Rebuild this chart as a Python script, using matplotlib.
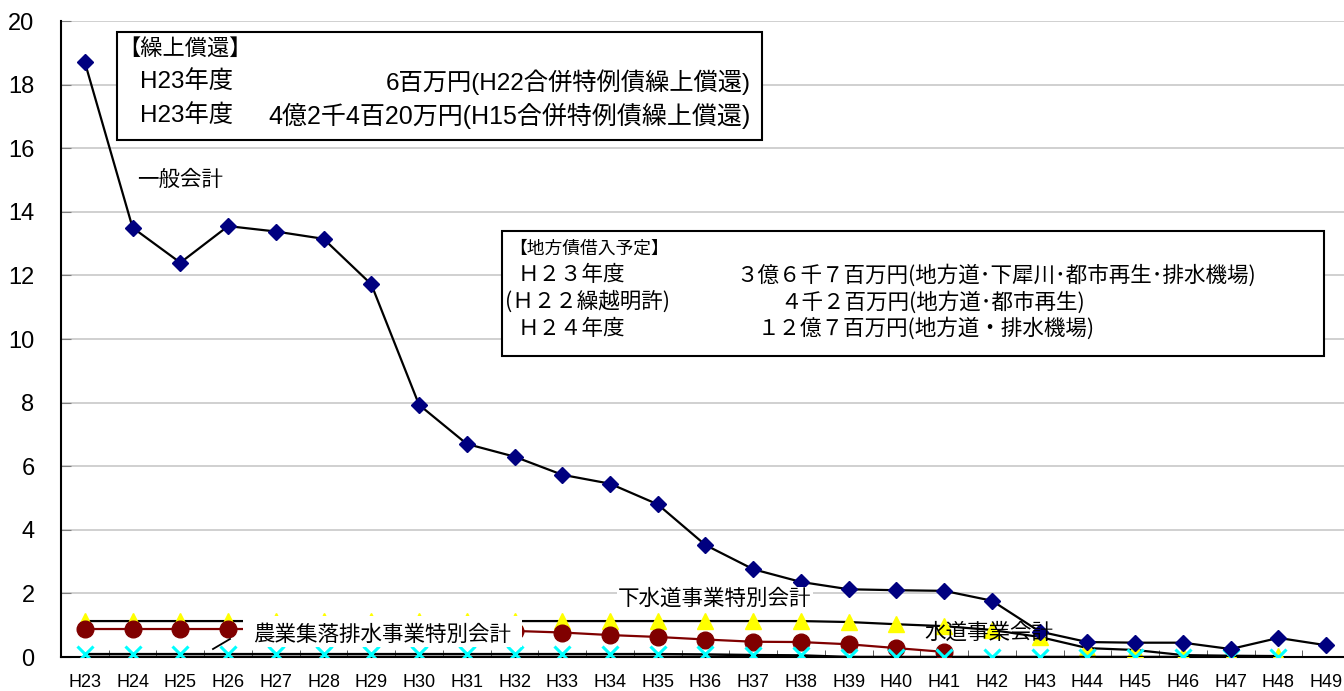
import matplotlib
matplotlib.use("Agg")
import matplotlib.pyplot as plt
from matplotlib.patches import Rectangle
from matplotlib.lines import Line2D
import numpy as np

plt.rcParams['font.family'] = ['Liberation Sans', 'Noto Sans CJK JP', 'DejaVu Sans']
JP = ['Noto Sans CJK JP', 'DejaVu Sans']
LJ = ['Liberation Sans', 'Noto Sans CJK JP']

# categories H23 .. H49
years = ["H%d" % y for y in range(23, 50)]

# 一般会計
general = [18.7, 13.5, 12.4, 13.55, 13.38, 13.15, 11.72, 7.93, 6.7, 6.3,
           5.73, 5.45, 4.8, 3.52, 2.76, 2.36, 2.13, 2.1, 2.08, 1.77,
           0.8, 0.47, 0.45, 0.45, 0.25, 0.6, 0.37]
# 下水道事業特別会計
sewer = [1.13, 1.13, 1.13, 1.13, 1.13, 1.13, 1.13, 1.13, 1.13, 1.13,
         1.13, 1.13, 1.13, 1.13, 1.13, 1.13, 1.1, 1.03, 0.97, 0.85,
         0.63, 0.28, 0.22, 0.06, 0.04, 0.03]
# 農業集落排水事業特別会計
rural = [0.88, 0.88, 0.88, 0.88, 0.88, 0.88, 0.87, 0.86, 0.84, 0.82,
         0.77, 0.69, 0.63, 0.55, 0.48, 0.47, 0.4, 0.28, 0.16]
# 水道事業会計
water = [0.09, 0.09, 0.09, 0.09, 0.09, 0.09, 0.09, 0.09, 0.09, 0.09,
         0.09, 0.09, 0.09, 0.08, 0.06, 0.05, 0.0, 0.0, 0.0, 0.0,
         0.0, 0.0, 0.0, 0.0, 0.0, 0.0]

W, H = 1344, 691
def fx(x):
    return x / W
def fy(y):
    return 1 - y / H

fig = plt.figure(figsize=(13.44, 6.91), dpi=100)
ax = fig.add_axes([fx(61), fy(657), (1350 - 61) / W, (657 - 21) / H])

x = np.arange(len(years))
ax.plot(x[:len(sewer)], sewer, color='black', lw=1.6, marker='^', ms=11,
        mfc='#ffff00', mec='#ffff00', zorder=3)
ax.plot(x[:len(rural)], rural, color='#800000', lw=1.6, marker='o', ms=12,
        mfc='#800000', mec='#800000', zorder=4)
ax.plot(x[:len(water)], water, color='black', lw=1.8, marker='x', ms=11,
        mec='#00ffff', mew=2.2, zorder=5)
ax.plot(x, general, color='black', lw=1.6, marker='D', ms=8.5,
        mfc='#000080', mec='#000080', zorder=6)

ax.set_xlim(-0.5, len(years) - 0.5)
ax.set_ylim(0, 20)
ax.set_yticks(range(0, 21, 2))
ax.yaxis.grid(True, color='#c8c8c8', lw=1.2)
ax.set_axisbelow(True)
ax.set_xticks(x)
ax.set_xticklabels(years)
ax.set_xticks(np.arange(-0.5, len(years), 1), minor=True)
ax.tick_params(axis='x', which='major', length=0, pad=12, labelsize=13)
ax.tick_params(axis='x', which='minor', direction='in', length=5, color='#404040')
ax.tick_params(axis='y', direction='in', length=7, color='#808080', pad=19, labelsize=17)
for s in ['top', 'right']:
    ax.spines[s].set_visible(False)
ax.spines['left'].set_linewidth(1.5)
ax.spines['bottom'].set_linewidth(1.5)

# series labels
fig.text(fx(137), fy(180), "一般会計", family=JP, fontsize=15.5, va='center', ha='left')
fig.text(fx(618), fy(599), "下水道事業特別会計", family=JP, fontsize=15.5, va='center', ha='left',
         bbox=dict(fc='white', ec='none', pad=1))
fig.patches.append(Rectangle((fx(243), fy(647)), (522 - 243) / W, (647 - 616) / H,
                             transform=fig.transFigure, fc='white', ec='none', zorder=1))
fig.text(fx(253), fy(635), "農業集落排水事業特別会計", family=JP, fontsize=15.5, va='center', ha='left')
fig.lines.append(Line2D([fx(213), fx(230)], [fy(649), fy(639)], transform=fig.transFigure,
                        color='black', lw=1.3))
fig.text(fx(924), fy(633), "水道事業会計", family=JP, fontsize=15.5, va='center', ha='left', zorder=0.5)

# box 1
fig.patches.append(Rectangle((fx(117), fy(140)), (762 - 117) / W, (140 - 32) / H,
                             transform=fig.transFigure, fc='white', ec='black', lw=1.5, zorder=1))
fig.text(fx(118), fy(48), "【繰上償還】", family=JP, fontsize=16, va='center', ha='left')
fig.text(fx(140), fy(82), "H23年度", family=LJ, fontsize=17.5, va='center', ha='left')
fig.text(fx(751), fy(82), "6百万円(H22合併特例債繰上償還)", family=LJ, fontsize=17.5,
         va='center', ha='right')
fig.text(fx(140), fy(116), "H23年度", family=LJ, fontsize=17.5, va='center', ha='left')
fig.text(fx(751), fy(116), "4億2千4百20万円(H15合併特例債繰上償還)", family=LJ, fontsize=18,
         va='center', ha='right')

# box 2
fig.patches.append(Rectangle((fx(502), fy(356)), (1324 - 502) / W, (356 - 231) / H,
                             transform=fig.transFigure, fc='white', ec='black', lw=1.5, zorder=1))
fig.text(fx(509), fy(249), "【地方債借入予定】", family=JP, fontsize=12.8, va='center', ha='left')
fig.text(fx(518), fy(275), "Ｈ２３年度", family=JP, fontsize=15.5, va='center', ha='left')
fig.text(fx(736), fy(275), "３億６千７百万円(地方道･下犀川･都市再生･排水機場)", family=JP,
         fontsize=15.5, va='center', ha='left')
fig.text(fx(505), fy(302), "(Ｈ２２繰越明許)", family=JP, fontsize=15.5, va='center', ha='left')
fig.text(fx(780), fy(302), "４千２百万円(地方道･都市再生)", family=JP, fontsize=15.5,
         va='center', ha='left')
fig.text(fx(518), fy(329), "Ｈ２４年度", family=JP, fontsize=15.5, va='center', ha='left')
fig.text(fx(758), fy(329), "１２億７百万円(地方道・排水機場)", family=JP, fontsize=15.5,
         va='center', ha='left')

fig.savefig("out.png", dpi=100)
